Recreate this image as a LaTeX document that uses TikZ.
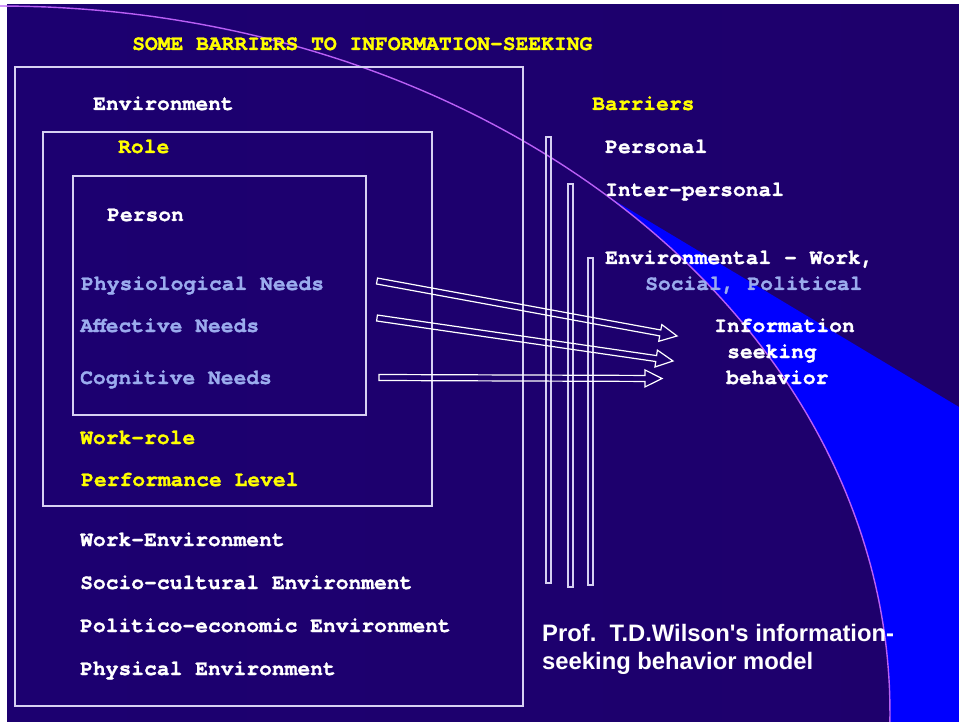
\documentclass[tikz,border=0pt]{standalone}
\usepackage{fontspec}
\usetikzlibrary{calc}
\newfontfamily\monofnt{TeX Gyre Cursor}[BoldFeatures={FakeBold=1.3}]
\newfontfamily\sansfnt{Liberation Sans}
\definecolor{bgL}{RGB}{28,0,112}
\definecolor{bgM}{RGB}{38,6,152}
\definecolor{bgR}{RGB}{30,0,108}
\definecolor{wedgeblue}{RGB}{0,0,255}
\definecolor{arccol}{RGB}{185,95,245}
\definecolor{framecol}{RGB}{214,208,242}
\definecolor{ttlyellow}{RGB}{255,255,0}
\definecolor{needblue}{RGB}{155,172,238}
\tikzset{
  lbl/.style={anchor=base west, inner sep=0pt, font=\monofnt\bfseries\fontsize{21.3}{24}\selectfont, text=white},
  ylbl/.style={lbl, text=ttlyellow},
  blbl/.style={lbl, text=needblue},
  caplbl/.style={anchor=base west, inner sep=0pt, font=\sansfnt\bfseries\fontsize{23.8}{28}\selectfont, text=white},
  boxline/.style={draw=framecol, line width=1.3pt},
  barline/.style={draw=framecol, line width=1.2pt},
  arrowline/.style={draw=white, line width=1.2pt, line join=miter},
}
\newcommand\hollowarrow[2]{%
  \coordinate (#1base) at ($(#2)!17pt!(#1)$);
  \draw[arrowline] ($(#1)!3pt!90:(#2)$) -- ($(#1base)!3pt!90:(#2)$)
    -- ($(#1base)!8.5pt!90:(#2)$) -- (#2)
    -- ($(#1base)!8.5pt!-90:(#2)$) -- ($(#1base)!3pt!-90:(#2)$)
    -- ($(#1)!3pt!-90:(#2)$) -- cycle;}
\begin{document}
\begin{tikzpicture}[x=1pt,y=-1pt]
\useasboundingbox (0,0) rectangle (959,722);
\fill[white] (0,0) rectangle (959,722);
\shade[left color=bgL, middle color=bgM, right color=bgR] (7,5) rectangle (959,722);
% bright wedge
\fill[wedgeblue] (959,407) -- (959,722) -- plot[domain=-1:46.8, samples=60] ({890*cos(\x)},{712-706*sin(\x)}) -- cycle;
% arc
\draw[arccol, line width=1.4pt] plot[domain=-1:90, samples=120] ({890*cos(\x)},{712-706*sin(\x)});
% boxes
\draw[boxline] (15,67) rectangle (523,706);
\draw[boxline] (43,132) rectangle (432,506);
\draw[boxline] (73,176) rectangle (366,415);
% barriers
\draw[barline] (546,137) rectangle (551,583);
\draw[barline] (568,184) rectangle (573,587);
\draw[barline] (588,258) rectangle (593,585);
% texts
\node[ylbl] (title) at (132,50) {SOME BARRIERS TO INFORMATION-SEEKING};
\node[lbl] (env) at (93,110) {Environment};
\node[ylbl] (role) at (118,153) {Role};
\node[lbl] (person) at (107,221) {Person};
\node[blbl] (phys) at (81,290) {Physiological Needs};
\node[blbl] (aff) at (80,332) {Affective Needs};
\node[blbl] (cog) at (80,384) {Cognitive Needs};
\node[ylbl] (workrole) at (80,444) {Work-role};
\node[ylbl] (perf) at (81,486) {Performance Level};
\node[lbl] (workenv) at (80,546) {Work-Environment};
\node[lbl] (socio) at (80,589) {Socio-cultural Environment};
\node[lbl] (polit) at (80,632) {Politico-economic Environment};
\node[lbl] (physenv) at (80,675) {Physical Environment};
\node[ylbl] (barriers) at (592,110) {Barriers};
\node[lbl] (personal) at (605,153) {Personal};
\node[lbl] (inter) at (605,196) {Inter-personal};
\node[lbl] (envbar) at (605,264) {Environmental – Work,};
\node[blbl] (social) at (645,290) {Social, Political};
\node[lbl] (info1) at (714,332) {Information};
\node[lbl] (info2) at (727,358) {seeking};
\node[lbl] (info3) at (726,384) {behavior};
\node[caplbl] (cap1) at (542,641) {Prof.\ \ T.D.Wilson's information-};
\node[caplbl] (cap2) at (542,669) {seeking behavior model};
% arrows
\coordinate (ta) at (377,281); \coordinate (ha) at (677,336);
\coordinate (tb) at (377,318); \coordinate (hb) at (673,361);
\coordinate (tc) at (379,377.5); \coordinate (hc) at (662,378.5);
\hollowarrow{ta}{ha}
\hollowarrow{tb}{hb}
\hollowarrow{tc}{hc}
\end{tikzpicture}
\end{document}
